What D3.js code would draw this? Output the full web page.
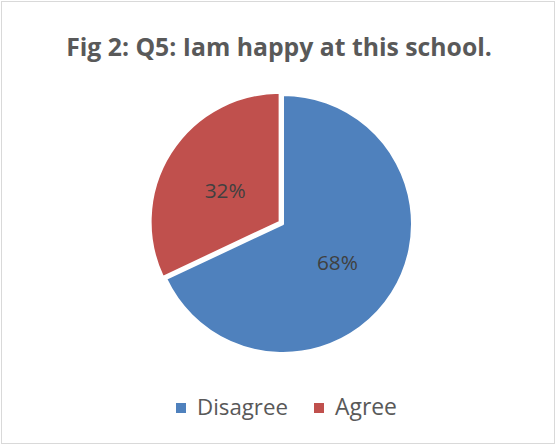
<!DOCTYPE html>
<html><head><meta charset="utf-8">
<script src="https://cdn.jsdelivr.net/npm/d3@7"></script>
<style>body{margin:0;background:#fff}</style>
</head><body>
<script>
const categories = ["Disagree", "Agree"];
const values = [68, 32];
const labels = ["68%", "32%"];
const colors = ["#4F81BD", "#C0504D"];
const title = "Fig 2: Q5: Iam happy at this school.";

const W = 557, H = 446;
const svg = d3.select("body").append("svg").attr("width", W).attr("height", H);
svg.append("rect").attr("x", 1.5).attr("y", 1.5).attr("width", W - 4).attr("height", H - 4)
  .attr("fill", "#fff").attr("stroke", "#d9d9d9").attr("stroke-width", 1);

const font = "'Open Sans', 'Liberation Sans', sans-serif";
function fit(sel, base, target) {
  const w = sel.node().getComputedTextLength();
  sel.attr("font-size", base * target / w);
}
const t = svg.append("text").attr("x", 279).attr("y", 56).attr("text-anchor", "middle")
  .attr("font-family", font).attr("font-weight", "bold").attr("font-size", 20)
  .attr("fill", "#595959").text(title);
fit(t, 20, 426);

const cx = 283, cy = 224, r = 129;
const pie = d3.pie().sort(null).value(d => d)(values);
const arc = d3.arc().innerRadius(0).outerRadius(r);
const g = svg.append("g").attr("transform", `translate(${cx},${cy})`);
const explode = [0, 4];
pie.forEach((p, i) => {
  const mid = (p.startAngle + p.endAngle) / 2;
  const dx = Math.sin(mid) * explode[i], dy = -Math.cos(mid) * explode[i];
  const sg = g.append("g").attr("transform", `translate(${dx},${dy})`);
  sg.append("path").attr("d", arc(p)).attr("fill", colors[i])
    .attr("stroke", "#fff").attr("stroke-width", 2).attr("stroke-linejoin", "round");
  const c = arc.centroid(p);
  const lt = sg.append("text").attr("x", c[0]).attr("y", c[1] + 3).attr("text-anchor", "middle")
    .attr("dominant-baseline", "central").attr("font-family", font)
    .attr("font-size", 16).attr("fill", "#404040").text(labels[i]);
  fit(lt, 16, 41);
});

const legendX = [176, 314];
const legendW = [91, 62];
categories.forEach((c, i) => {
  svg.append("rect").attr("x", legendX[i]).attr("y", 403).attr("width", 10).attr("height", 10)
    .attr("fill", colors[i]);
  const lt = svg.append("text").attr("x", legendX[i] + 21).attr("y", 415).attr("font-family", font)
    .attr("font-size", 17).attr("fill", "#595959").text(c);
  fit(lt, 17, legendW[i]);
});
</script>
</body></html>
